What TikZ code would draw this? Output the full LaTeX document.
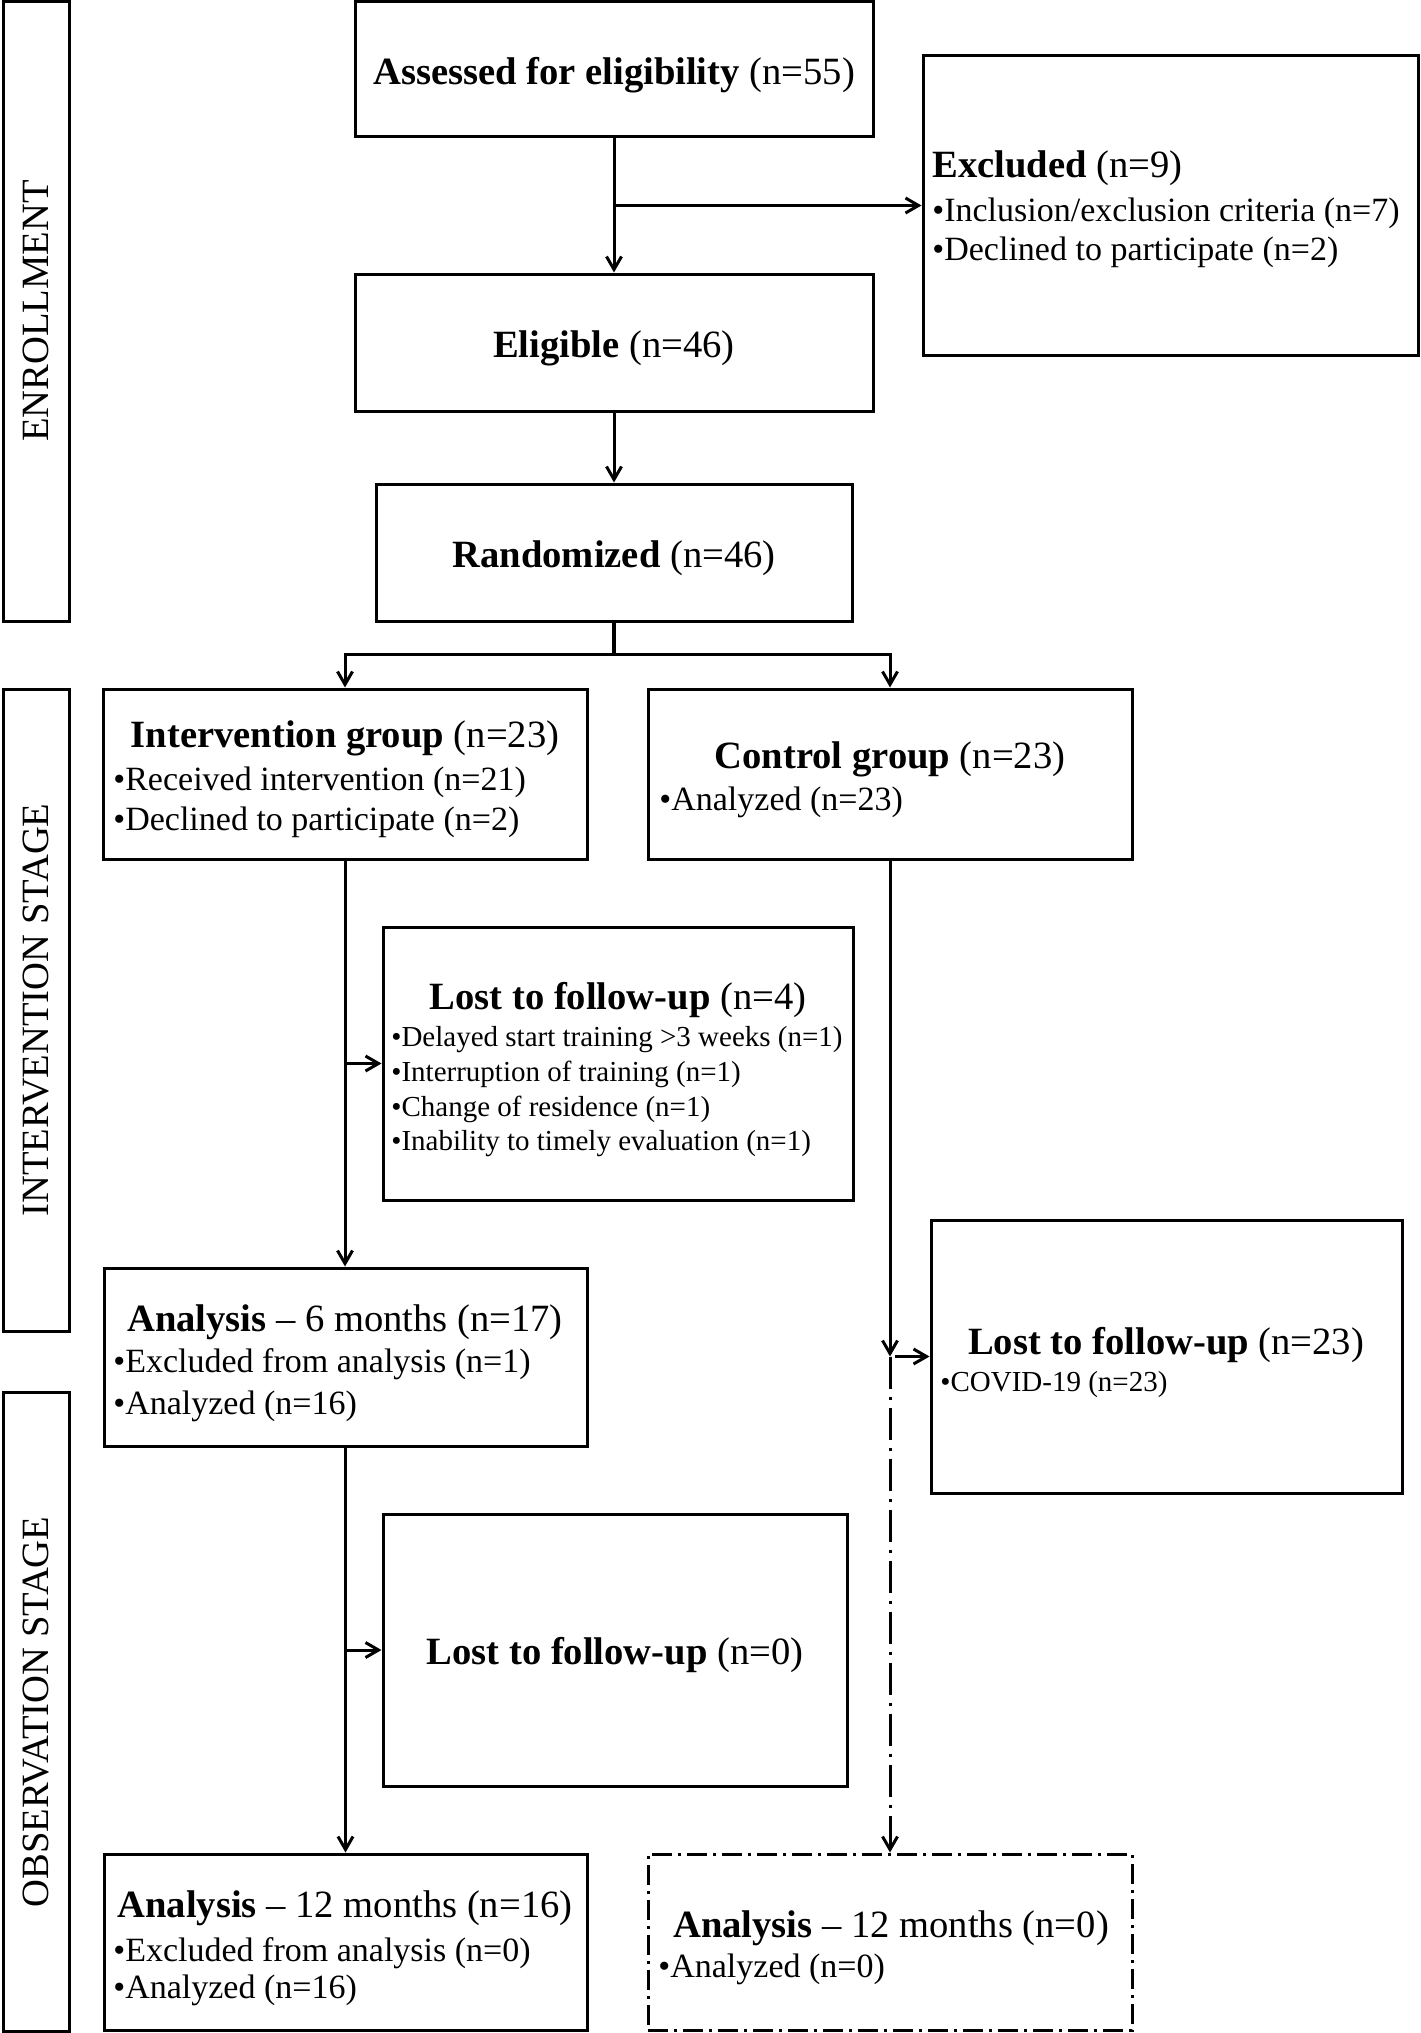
\documentclass[tikz,border=0pt]{standalone}
\usepackage{fontspec}
\setmainfont{Liberation Serif}
\usetikzlibrary{arrows.meta,fit}
\begin{document}
\begin{tikzpicture}[x=0.5pt,y=-0.5pt,
  box/.style={draw,line width=1.5pt,inner sep=0pt},
  ddbox/.style={box,dash pattern=on 10pt off 3pt on 1.5pt off 3pt},
  conn/.style={line width=1.5pt,-{Straight Barb[length=6.5pt,width=7.5pt]}},
  plainln/.style={line width=1.6pt},
  dashdotln/.style={dash pattern=on 16pt off 4pt on 1.5pt off 4pt},
  ttl/.style={inner sep=0pt,anchor=base,font=\fontsize{19.3}{23}\selectfont},
  ttlw/.style={inner sep=0pt,anchor=base west,font=\fontsize{19.3}{23}\selectfont},
  blt/.style={inner sep=0pt,anchor=base west,font=\fontsize{17}{20}\selectfont},
  sblt/.style={inner sep=0pt,anchor=base west,font=\fontsize{14.5}{17}\selectfont},
  side/.style={rotate=90,inner sep=0pt,font=\fontsize{19.3}{23}\selectfont}
]
\useasboundingbox (0,0) rectangle (1420,2033);

% stage boxes
\node[box,fit={(3,2)(69,621)}] (enr) {};
\node[side] (enrt) at (36,311) {ENROLLMENT};
\node[box,fit={(3,689)(69,1331)}] (ints) {};
\node[side] (intst) at (36,1010) {INTERVENTION STAGE};
\node[box,fit={(3,1392)(69,2031)}] (obs) {};
\node[side] (obst) at (36,1712) {OBSERVATION STAGE};

% boxes
\node[box,fit={(355,2)(873,137)}] (assess) {};
\node[box,fit={(923,56)(1418,355)}] (excl) {};
\node[box,fit={(355,274)(873,411)}] (elig) {};
\node[box,fit={(376,484)(852,621)}] (rand) {};
\node[box,fit={(103,689)(587,859)}] (intv) {};
\node[box,fit={(648,689)(1132,859)}] (ctrl) {};
\node[box,fit={(383,927)(853,1200)}] (lostA) {};
\node[box,fit={(104,1268)(587,1446)}] (asix) {};
\node[box,fit={(931,1220)(1402,1493)}] (lostC) {};
\node[box,fit={(383,1514)(847,1786)}] (lostB) {};
\node[box,fit={(104,1854)(587,2030)}] (atw) {};
\node[ddbox,fit={(648,1854)(1132,2030)}] (atwc) {};

% texts
\node[ttl] (t1) at (614,85) {\textbf{Assessed for eligibility} (n=55)};
\node[ttlw] (t2) at (932,178) {\textbf{Excluded} (n=9)};
\node[blt] (t2a) at (932,221) {•Inclusion/exclusion criteria (n=7)};
\node[blt] (t2b) at (932,261) {•Declined to participate (n=2)};
\node[ttl] (t3) at (614,357) {\textbf{Eligible} (n=46)};
\node[ttl] (t4) at (614,567) {\textbf{Randomized} (n=46)};
\node[ttl] (t5) at (345,747) {\textbf{Intervention group} (n=23)};
\node[blt] (t5a) at (113,790) {•Received intervention (n=21)};
\node[blt] (t5b) at (113,830) {•Declined to participate (n=2)};
\node[ttl] (t6) at (890,768) {\textbf{Control group} (n=23)};
\node[blt] (t6a) at (659,810) {•Analyzed (n=23)};
\node[ttl] (t7) at (618,1009) {\textbf{Lost to follow-up} (n=4)};
\node[sblt] (t7a) at (391,1046) {•Delayed start training >3 weeks (n=1)};
\node[sblt] (t7b) at (391,1081) {•Interruption of training (n=1)};
\node[sblt] (t7c) at (391,1116) {•Change of residence (n=1)};
\node[sblt] (t7d) at (391,1150) {•Inability to timely evaluation (n=1)};
\node[ttl] (t8) at (345,1331) {\textbf{Analysis} – 6 months (n=17)};
\node[blt] (t8a) at (113,1372) {•Excluded from analysis (n=1)};
\node[blt] (t8b) at (113,1414) {•Analyzed (n=16)};
\node[ttl] (t9) at (1166,1354) {\textbf{Lost to follow-up} (n=23)};
\node[sblt] (t9a) at (940,1391) {•COVID-19 (n=23)};
\node[ttl] (t10) at (615,1664) {\textbf{Lost to follow-up} (n=0)};
\node[ttl] (t11) at (345,1917) {\textbf{Analysis} – 12 months (n=16)};
\node[blt] (t11a) at (113,1961) {•Excluded from analysis (n=0)};
\node[blt] (t11b) at (113,1998) {•Analyzed (n=16)};
\node[ttl] (t12) at (891,1937) {\textbf{Analysis} – 12 months (n=0)};
\node[blt] (t12a) at (658,1977) {•Analyzed (n=0)};

% connectors
\draw[conn] (assess.south) -- (elig.north);
\draw[conn] (assess.south |- excl.west) -- (excl.west);
\draw[conn] (elig.south) -- (rand.north);
\coordinate (br) at (614,654);
\draw[plainln] (rand.south) -- (br);
\draw[conn] (br) -| (intv.north);
\draw[conn] (br) -| (ctrl.north);
\draw[conn] (intv.south) -- (intv.south |- asix.north);
\draw[conn] (intv.south |- lostA.west) -- (lostA.west);
\draw[conn] (asix.south) -- (asix.south |- atw.north);
\draw[conn] (asix.south |- lostB.west) -- (lostB.west);
\coordinate (cj) at (ctrl.south |- lostC.west);
\draw[conn] (ctrl.south) -- (cj);
\draw[conn] ([xshift=2.5pt]cj) -- (lostC.west);
\draw[conn,dashdotln] (cj) -- (cj |- atwc.north);
\end{tikzpicture}
\end{document}
